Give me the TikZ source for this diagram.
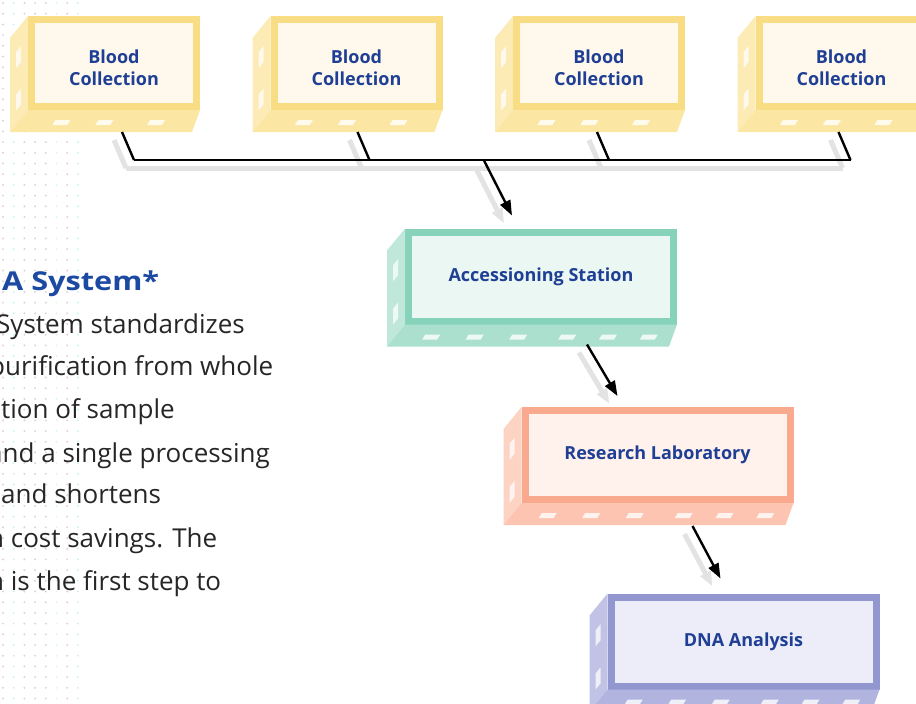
\documentclass[tikz,border=0pt]{standalone}
\usepackage{fontspec}
\setmainfont{Open Sans}
\usetikzlibrary{calc,arrows.meta}

\definecolor{textblue}{HTML}{1E3F94}
\definecolor{headblue}{HTML}{1C49A2}
\definecolor{bcframe}{HTML}{F9DD84}
\definecolor{bcside}{HTML}{FCEBB4}
\definecolor{bcinner}{HTML}{FFF8EC}
\definecolor{acframe}{HTML}{86D2BA}
\definecolor{acside}{HTML}{BFE8DA}
\definecolor{acinner}{HTML}{EBF7F3}
\definecolor{rlframe}{HTML}{F9A98E}
\definecolor{rlside}{HTML}{FDD3C4}
\definecolor{rlinner}{HTML}{FFF1EC}
\definecolor{dnframe}{HTML}{9298CF}
\definecolor{dnside}{HTML}{C0C3E6}
\definecolor{dninner}{HTML}{ECEDF8}

\newcommand{\bloodtext}{\rule{0pt}{24pt}Blood\\Collection}

\begin{document}
\begin{tikzpicture}[x=1pt, y=-1pt,
    >={Triangle[length=15pt,width=11pt]},
    unit/.style={draw=#1frame, fill=#1inner, line width=7pt, text=textblue,
      font=\bfseries\fontsize{18}{22}\selectfont, align=center, inner sep=0pt},
    small unit/.style={unit=#1, minimum width=165, minimum height=87},
    wide unit/.style={unit=#1, minimum width=265, minimum height=89},
    link/.style={line width=2.4pt, line join=miter,
      preaction={draw=black!11, line width=5pt, transform canvas={shift={(-8,8)}}}},
    body/.style={anchor=base west, inner sep=0pt, text=black!85, font=\fontsize{26}{30}\selectfont},
    head/.style={anchor=base west, inner sep=0pt, text=headblue, font=\bfseries\fontsize{26}{30}\selectfont}]
  \useasboundingbox (0,0) rectangle (916,704);

  % dotted strip on the left
  \foreach \i in {0,2,3,4,6} \foreach \j in {0,...,65}
    \fill[black!16] (3+10.7*\i, 3+10.7*\j) circle (1.1);
  \foreach \i in {1,7} \foreach \j in {0,...,65}
    \fill[cyan!20] (3+10.7*\i, 3+10.7*\j) circle (1.1);
  \foreach \j in {0,...,65}
    \fill[green!16] (3+10.7*5, 3+10.7*\j) circle (1.1);

  % text on the left
  \node[head] (title) at (2,290) {\scalebox{1.18}[1]{A System*}};
  \foreach \i/\x/\y/\t in {1/-4/333/System standardizes, 2/-11/375/purification from whole,
      3/1/418/tion of sample, 4/-12/462/and a single processing, 5/1/503/and shortens,
      6/-12/547/n cost savings. The, 7/-12/590/n is the first step to}
    \node[body] (line\i) at (\x,\y) {\t};

  % stations
  \node[small unit=bc] (bc1) at (114,63) {\bloodtext};
  \node[small unit=bc] (bc2) at (356.5,63) {\bloodtext};
  \node[small unit=bc] (bc3) at (599,63) {\bloodtext};
  \node[small unit=bc] (bc4) at (841.5,63) {\bloodtext};
  \node[wide unit=ac] (acc) at (541,276.5) {Accessioning Station};
  \node[wide unit=rl] (res) at (657.5,455) {Research Laboratory};
  \node[wide unit=dn] (dna) at (743.5,641.5) {DNA Analysis};

  % side and bottom faces
  \foreach \n/\cl in {bc1/bc,bc2/bc,bc3/bc,bc4/bc,acc/ac,res/rl,dna/dn} {
    \fill[\cl side] (\n.north west) -- ++(-18,22) -- ($(\n.south west)+(-18,22)$)
      -- (\n.south west) -- cycle;
    \fill[\cl side!65!\cl frame] (\n.south west) -- ($(\n.south west)+(-18,22)$)
      -- ($(\n.south east)+(-8,22)$) -- (\n.south east) -- cycle;
    \foreach \q in {0.3,0.75}
      \fill[white, opacity=0.75] ($(\n.north west)!\q!(\n.south west)+(-12,8)$)
        -- ++(5,-6) -- ++(0,16) -- ++(-5,6) -- cycle;
  }
  \foreach \n in {bc1,bc2,bc3,bc4} \foreach \p in {0.2,0.45,0.75}
    \fill[white, opacity=0.8] ($(\n.south west)!\p!(\n.south east)+(-10,15)$)
      -- ++(15,0) -- ++(3,-5) -- ++(-15,0) -- cycle;
  \foreach \n in {acc,res,dna} \foreach \p in {0.1,0.26,0.42,0.6,0.75,0.9}
    \fill[white, opacity=0.8] ($(\n.south west)!\p!(\n.south east)+(-10,15)$)
      -- ++(15,0) -- ++(3,-5) -- ++(-15,0) -- cycle;

  % connectors
  \foreach \n/\o in {bc1/8,bc2/1,bc3/-2,bc4/-3}
    \draw[link] ($(\n.south)+(\o,22)$) -- ++(12,28) coordinate (\n-j);
  \draw[link] (bc1-j) -- (bc4-j);
  \coordinate (tap) at ($(acc.north)+(-57,-68)$);
  \draw[link, ->] (tap) -- ($(acc.north)+(-29,-13)$);
  \draw[link, ->] ($(acc.south)+(46,20)$) -- ($(res.north)+(-40,-11)$);
  \draw[link, ->] ($(res.south)+(35,23)$) -- ($(dna.north)+(-23,-15)$);
\end{tikzpicture}
\end{document}
